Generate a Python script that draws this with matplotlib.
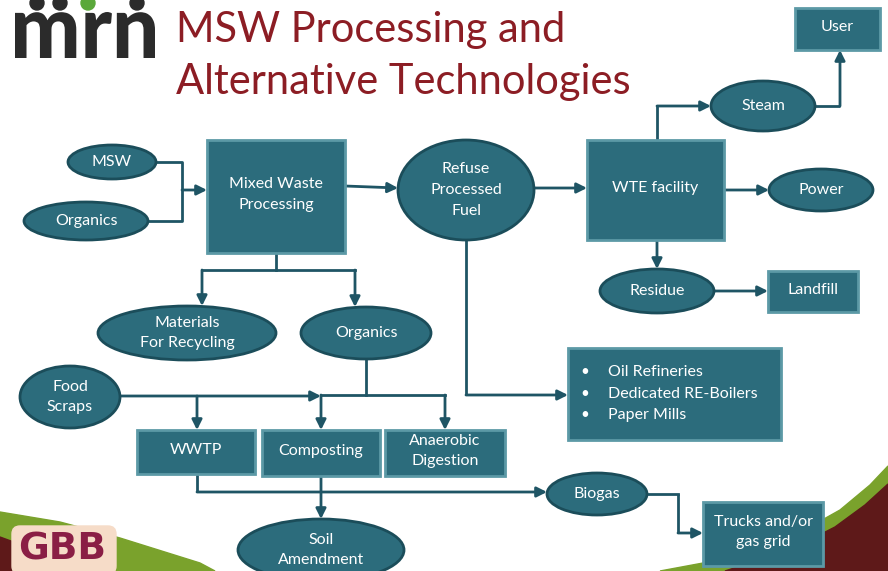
import matplotlib.pyplot as plt
from matplotlib.patches import Ellipse, FancyBboxPatch, Polygon, Circle, PathPatch
from matplotlib.textpath import TextPath
from matplotlib.font_manager import FontProperties
from matplotlib.transforms import Affine2D

plt.rcParams['font.family'] = ['Lato', 'DejaVu Sans']

# Node labels
title_lines = ['MSW Processing and', 'Alternative Technologies']
ellipse_labels = ['MSW', 'Organics', 'Refuse\nProcessed\nFuel', 'Steam', 'Power', 'Residue',
                  'Materials\nFor Recycling', 'Organics', 'Food\nScraps', 'Biogas', 'Soil\nAmendment']
box_labels = ['Mixed Waste\nProcessing', 'WTE facility', 'User', 'Landfill', 'WWTP',
              'Composting', 'Anaerobic\nDigestion', 'Trucks and/or\ngas grid']
end_users = ['Oil Refineries', 'Dedicated RE-Boilers', 'Paper Mills']

# layout (pixel space): center x, center y, width, height
ellipse_pos = [(112, 162, 88, 34), (86, 221, 124, 38), (466, 190, 136, 100), (763, 106, 104, 50),
               (821, 190, 104, 42), (657, 291, 114, 44), (187, 333, 178, 54), (366, 333, 130, 52),
               (70, 397, 100, 62), (597, 494, 100, 42), (321, 550, 166, 62)]
# left, top, right, bottom
box_pos = [(207, 140, 345, 253), (587, 140, 724, 240), (795, 8, 880, 50), (768, 271, 858, 312),
           (137, 430, 255, 474), (262, 430, 380, 476), (385, 430, 505, 476), (703, 502, 823, 566)]

FILL = '#2c6c7c'
EDGE = '#1b4d5a'
LINE = '#1f5565'
RED = '#8c1d24'

fig = plt.figure(figsize=(8.88, 5.71), dpi=100)
ax = fig.add_axes([0, 0, 1, 1])
ax.set_xlim(0, 888)
ax.set_ylim(571, 0)
ax.axis('off')

# bottom decorations
ax.add_patch(Polygon([(660, 571), (730, 558), (790, 538), (840, 510), (870, 485), (888, 466),
                      (888, 571)], closed=True, color='#7aa22c', zorder=0))
ax.add_patch(Polygon([(725, 571), (790, 550), (835, 527), (865, 505), (888, 484), (888, 571)],
                     closed=True, color='#5e1919', zorder=0))
ax.add_patch(Polygon([(0, 512), (60, 522), (120, 538), (200, 563), (215, 571), (0, 571)],
                     closed=True, color='#7aa22c', zorder=0))
ax.add_patch(Polygon([(0, 537), (30, 548), (50, 571), (0, 571)],
                     closed=True, color='#5e1919', zorder=0))
ax.add_patch(FancyBboxPatch((12, 526), 104, 48, boxstyle='round,pad=0,rounding_size=8',
                            color='#f6dcc8', zorder=1))
ax.text(62, 550, 'GBB', ha='center', va='center', fontsize=27, fontweight='black',
        color='#8a1e45', family='DejaVu Sans', zorder=2)

# mrn logo, stretched to fit its box
tp = TextPath((0, 0), 'mrn', size=50, prop=FontProperties(family='Lato', weight='black'))
ext = tp.get_extents()
sx = (155 - 15) / ext.width
sy = (58 - 12) / ext.height
tr = Affine2D().translate(-ext.x0, -ext.y0).scale(sx, -sy).translate(15, 58) + ax.transData
ax.add_patch(PathPatch(tp, transform=tr, facecolor='#2b2b2b', edgecolor='none'))
for hx, col in [(37, '#2b2b2b'), (60, '#2b2b2b'), (88, '#5aa83a'), (137, '#2b2b2b')]:
    ax.add_patch(Circle((hx, 3), 7, color=col))

ax.text(176, 42, title_lines[0], ha='left', va='baseline', fontsize=30, color=RED)
ax.text(176, 94, title_lines[1], ha='left', va='baseline', fontsize=30, color=RED)


def connect(pts, arrow=True):
    xs = [p[0] for p in pts]
    ys = [p[1] for p in pts]
    if arrow:
        ax.plot(xs[:-1], ys[:-1], color=LINE, lw=2, zorder=2, solid_capstyle='butt')
        ax.annotate('', xy=pts[-1], xytext=pts[-2],
                    arrowprops=dict(arrowstyle='-|>,head_length=0.6,head_width=0.3',
                                    color=LINE, lw=2, shrinkA=0, shrinkB=0), zorder=2)
    else:
        ax.plot(xs, ys, color=LINE, lw=2, zorder=2)


connect([(156, 162), (182, 162), (182, 221), (148, 221)], arrow=False)
connect([(182, 190), (207, 190)])
connect([(345, 186), (398, 188)])
connect([(534, 188), (587, 188)])
connect([(724, 190), (769, 190)])
connect([(657, 140), (657, 106), (711, 106)])
connect([(815, 106), (840, 106), (840, 50)])
connect([(657, 240), (657, 269)])
connect([(714, 291), (768, 291)])
connect([(276, 253), (276, 270)], arrow=False)
connect([(202, 270), (355, 270)], arrow=False)
connect([(202, 270), (202, 306)])
connect([(355, 270), (355, 307)])
connect([(466, 240), (466, 395), (568, 395)])
connect([(366, 359), (366, 395)], arrow=False)
connect([(321, 395), (445, 395)], arrow=False)
connect([(120, 396), (321, 396)])
connect([(197, 396), (197, 430)])
connect([(321, 395), (321, 430)])
connect([(445, 395), (445, 430)])
connect([(197, 474), (197, 492), (547, 492)])
connect([(321, 476), (321, 519)])
connect([(647, 494), (678, 494)], arrow=False)
connect([(678, 494), (678, 533), (703, 533)])

for lab, (cx, cy, w, h) in zip(ellipse_labels, ellipse_pos):
    ax.add_patch(Ellipse((cx, cy), w, h, facecolor=FILL, edgecolor=EDGE, lw=2, zorder=3))
    ax.text(cx, cy, lab, ha='center', va='center', color='white', fontsize=11.5,
            linespacing=1.6, zorder=4)

for lab, (l, t, r, b) in zip(box_labels, box_pos):
    ax.add_patch(FancyBboxPatch((l, t), r - l, b - t, boxstyle='square,pad=0',
                                facecolor=FILL, edgecolor='#5c99a6', lw=2, zorder=3))
    ax.text((l + r) / 2, (t + b) / 2 - 2, lab, ha='center', va='center', color='white',
            fontsize=11.5, linespacing=1.6, zorder=4)

# end-user list box
ax.add_patch(FancyBboxPatch((568, 348), 213, 92, boxstyle='square,pad=0',
                            facecolor=FILL, edgecolor='#5c99a6', lw=2, zorder=3))
for i, item in enumerate(end_users):
    y = 372 + i * 21.5
    ax.text(585, y, '\u2022', ha='center', va='center', color='white', fontsize=11, zorder=4)
    ax.text(608, y, item, ha='left', va='center', color='white', fontsize=11.5, zorder=4)

fig.savefig('out.png', dpi=100)
